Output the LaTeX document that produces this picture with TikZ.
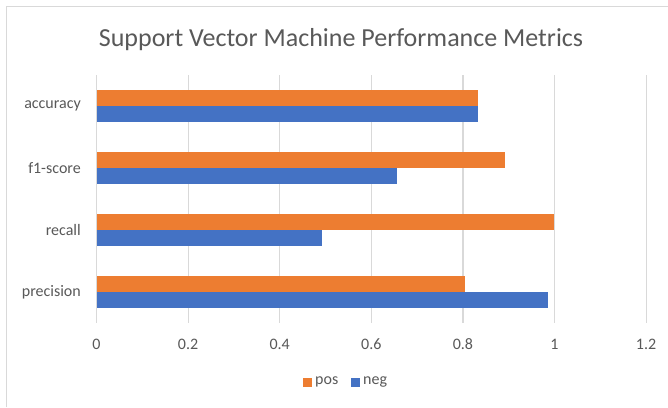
\documentclass[tikz,border=0pt]{standalone}
\usepackage{fontspec}
\setmainfont{Carlito}
\definecolor{posc}{HTML}{ED7D31}
\definecolor{negc}{HTML}{4472C4}
\definecolor{gridc}{HTML}{D9D9D9}
\definecolor{txtc}{HTML}{595959}
\begin{document}
\begin{tikzpicture}[x=1pt,y=-1pt,
  gridline/.style={draw=gridc,line width=1.2pt},
  ticklab/.style={text=txtc,font=\fontsize{16}{19}\selectfont,inner sep=0pt},
  catlab/.style={text=txtc,font=\fontsize{16}{19}\selectfont,inner sep=0pt,anchor=east},
  posbar/.style={fill=posc},
  negbar/.style={fill=negc}]
\useasboundingbox (0,0) rectangle (668,407);
\fill[white] (0,0) rectangle (668,407);
% frame
\draw[draw=gridc,line width=1.8pt] (6.5,407) -- (6.5,6.5) -- (668,6.5);
% title
\node[text=txtc,font=\fontsize{26}{30}\selectfont,inner sep=0pt] (title) at (341,40) {Support Vector Machine Performance Metrics};
% gridlines and tick labels
\foreach \v/\l [count=\i] in {0/0,0.2/0.2,0.4/0.4,0.6/0.6,0.8/0.8,1/1,1.2/1.2}{
  \draw[gridline] (96.5+458*\v,75) -- (96.5+458*\v,323);
  \node[ticklab] (tick\i) at (96.5+458*\v,344) {\l};
}
% bars: category center y, pos value, neg value
\foreach \name/\yc/\p/\n in {accuracy/106/0.834/0.834,f1-score/168/0.891/0.656,recall/230/0.998/0.493,precision/292/0.805/0.986}{
  \fill[posbar] (96.5,\yc-16) rectangle (96.5+458*\p,\yc);
  \fill[negbar] (96.5,\yc) rectangle (96.5+458*\n,\yc+16);
  \node[catlab] (cat-\name) at (81,\yc) {\name};
}
% legend
\fill[posc] (303,378) rectangle (311.5,386.5);
\node[ticklab,anchor=west] (legpos) at (315,382) {pos};
\fill[negc] (351,378) rectangle (359.5,386.5);
\node[ticklab,anchor=west] (legneg) at (363,382) {neg};
\end{tikzpicture}
\end{document}
